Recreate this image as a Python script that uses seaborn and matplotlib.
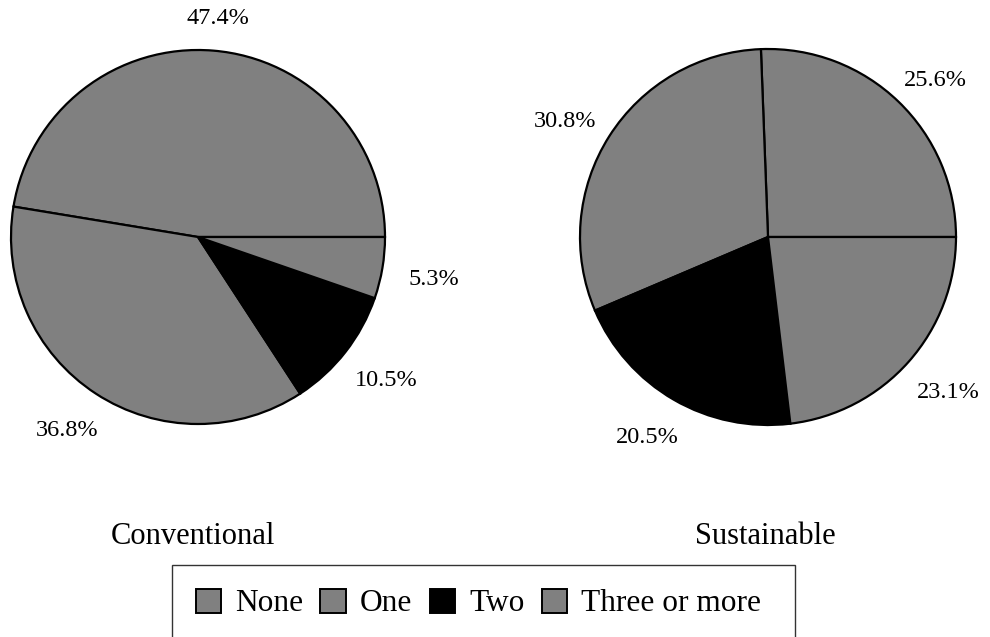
import matplotlib
matplotlib.use("Agg")
import numpy as np
import matplotlib.pyplot as plt
import seaborn as sns
from matplotlib.patches import Patch, Rectangle

sns.set_theme(style="white")
plt.rcParams["font.family"] = ["Liberation Serif", "DejaVu Serif"]
plt.rcParams["text.color"] = "black"

categories = ["None", "One", "Two", "Three or more"]
conventional = [47.4, 36.8, 10.5, 5.3]
sustainable = [25.6, 30.8, 20.5, 23.1]
titles = ["Conventional", "Sustainable"]
colors = ["#808080", "#808080", "#000000", "#808080"]

fig = plt.figure(figsize=(9.9, 6.37), dpi=100)
W, H = 990, 637


def pie_axes(cx, cy, r):
    return fig.add_axes([(cx - r) / W, (H - cy - r) / H, 2 * r / W, 2 * r / H])


ax_left = pie_axes(198, 237, 187)
ax_right = pie_axes(768, 237, 188)

for ax, vals in [(ax_left, conventional), (ax_right, sustainable)]:
    wedges, texts, autotexts = ax.pie(
        vals, colors=colors, startangle=0, counterclock=True,
        autopct=lambda p: f"{p:.1f}%", pctdistance=1.2,
        wedgeprops=dict(edgecolor="black", linewidth=1.6),
        textprops=dict(fontsize=17.5, color="black"),
    )
    # place each percentage just outside its wedge
    for w, t in zip(wedges, autotexts):
        ang = np.deg2rad((w.theta1 + w.theta2) / 2)
        c, s = np.cos(ang), np.sin(ang)
        t.set_position((1.28 * c, 1.2 * s - 0.03))
        t.set_ha("center")
        t.set_va("center")
        t.set_clip_on(False)
    ax.set_xlim(-1, 1)
    ax.set_ylim(-1, 1)
    ax.set_aspect("equal")
    ax.axis("off")

fig.text(193 / W, 1 - 537 / H, titles[0], ha="center", va="center",
         fontsize=22, color="black")
fig.text(765 / W, 1 - 537 / H, titles[1], ha="center", va="center",
         fontsize=22, color="black")

# legend box, running off the bottom edge
fig.patches.append(Rectangle(
    (172 / W, -0.05), (795 - 172) / W, (H - 565) / H + 0.05,
    transform=fig.transFigure, facecolor="none", edgecolor="#333333",
    linewidth=1.0, zorder=5))

handles = [Patch(facecolor=c, edgecolor="black", linewidth=1.4) for c in colors]
leg = fig.legend(
    handles, categories, ncol=4, loc="upper left",
    bbox_to_anchor=(172 / W, 1 - 565 / H), fontsize=22.6,
    frameon=False,
    handlelength=0.8, handleheight=0.8, handletextpad=0.45,
    columnspacing=0.56, borderpad=0.75, borderaxespad=0,
)
for txt in leg.get_texts():
    txt.set_color("black")

fig.savefig("out.png", dpi=100)
